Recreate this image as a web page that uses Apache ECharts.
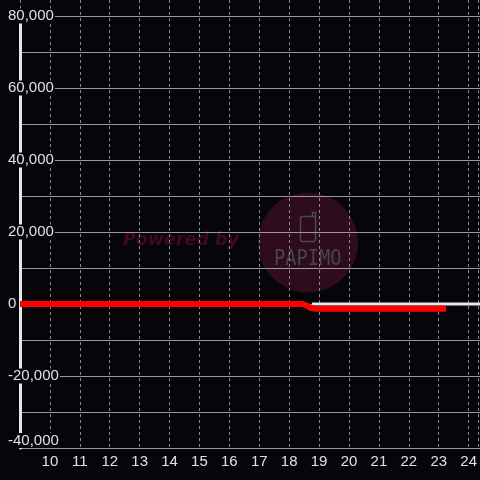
<!DOCTYPE html>
<html>
<head>
<meta charset="utf-8">
<script src="https://cdn.jsdelivr.net/npm/echarts@6/dist/echarts.min.js"></script>
<style>html,body{margin:0;padding:0;background:#060509;}#c{width:480px;height:480px;}</style>
</head>
<body>
<div id="c"></div>
<script>
// Data
const redX = [9, 18.4, 18.55, 18.7, 18.83, 23.2];
const redY = [0, 0, -400, -1100, -1300, -1300];
const whiteX = [18.73, 24.34];
const whiteY = [0, 0];
const xTicks = [10, 11, 12, 13, 14, 15, 16, 17, 18, 19, 20, 21, 22, 23, 24];
const yLabelValues = [-40000, -20000, 0, 20000, 40000, 60000, 80000];

const bg = '#060509';
const xMin = 9, xMax = 9 + 460 / 30;
const chart = echarts.init(document.getElementById('c'), null, {renderer: 'canvas'});
const option = {
  backgroundColor: bg,
  animation: false,
  grid: [
    {left: 20, right: 0, top: 0, bottom: 32},
    {left: 20, right: 0, top: 16, bottom: 32}
  ],
  xAxis: [
    {
      gridIndex: 0, type: 'value', min: xMin, max: xMax, interval: 1,
      axisLine: {show: false}, axisTick: {show: false},
      axisLabel: {
        color: '#e0e0e0', fontSize: 15, fontFamily: 'Liberation Sans', margin: 6,
        showMaxLabel: false,
        formatter: v => xTicks.indexOf(v) >= 0 ? String(v) : ''
      },
      splitLine: {show: true, lineStyle: {color: '#8a8a8a', width: 1, type: [3, 3]}}
    },
    {gridIndex: 1, type: 'value', min: xMin, max: xMax, show: false}
  ],
  yAxis: [
    {gridIndex: 0, type: 'value', show: false, min: 0, max: 1, splitLine: {show: false}},
    {
      gridIndex: 1, type: 'value', min: -40000, max: 80000, interval: 10000,
      axisLine: {show: true, lineStyle: {color: '#e6e6e6', width: 3}},
      axisTick: {show: false},
      axisLabel: {
        color: '#e0e0e0', fontSize: 15, fontFamily: 'Liberation Sans',
        align: 'left', margin: 13,
        backgroundColor: bg, padding: [0, 1],
        verticalAlignMinLabel: 'bottom',
        formatter: v => yLabelValues.indexOf(v) >= 0 ? v.toLocaleString('en-US') : ''
      },
      splitLine: {show: true, lineStyle: {color: '#9a9a9a', width: 1}}
    }
  ],
  graphic: [
    {type: 'circle', z: -10, shape: {cx: 308, cy: 242.5, r: 50}, style: {fill: '#2e0b1d'}},
    {type: 'text', z: -9, left: 123, top: 231, style: {text: 'Powered by', fill: '#3f0b1c', font: 'italic bold 17.5px "DejaVu Sans"'}},
    {type: 'rect', z: -9, shape: {x: 300.5, y: 216.5, width: 15, height: 25, r: 2}, style: {fill: 'none', stroke: '#4a4a4a', lineWidth: 1.5}},
    {type: 'polyline', z: -9, shape: {points: [[312.5, 216.5], [312.5, 212.5], [315.5, 212.5], [315.5, 218]]}, style: {fill: 'none', stroke: '#4a4a4a', lineWidth: 1.5}},
    {type: 'text', z: -9, x: 274, y: 248, scaleX: 0.85, style: {text: 'PAPIMO', fill: '#474747', font: '22px "DejaVu Sans Mono"'}}
  ],
  series: [
    {
      type: 'line', xAxisIndex: 1, yAxisIndex: 1, showSymbol: false, z: 3,
      data: whiteX.map((x, i) => [x, whiteY[i]]),
      lineStyle: {color: '#e8e8e8', width: 3}
    },
    {
      type: 'line', xAxisIndex: 1, yAxisIndex: 1, showSymbol: false, z: 4,
      smooth: 0.4, smoothMonotone: 'x',
      data: redX.map((x, i) => [x, redY[i]]),
      lineStyle: {color: '#ff0000', width: 6}
    }
  ]
};
chart.setOption(option);
</script>
</body>
</html>
